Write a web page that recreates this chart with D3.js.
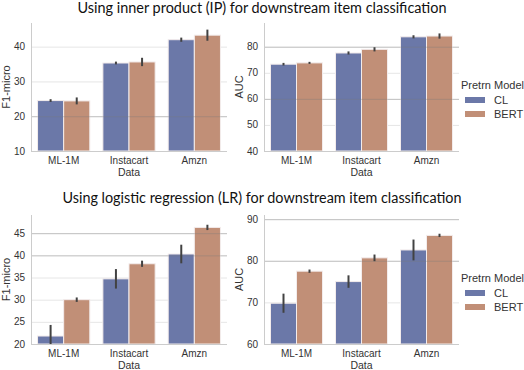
<!DOCTYPE html>
<html>
<head>
<meta charset="utf-8">
<script src="https://cdn.jsdelivr.net/npm/d3@7"></script>
<style>
  body { margin: 0; background: #fff; }
  text { font-family: "Liberation Sans", Arial, sans-serif; }
</style>
</head>
<body>
<div id="chart"></div>
<script>
// data
const datasets = ["ML-1M", "Instacart", "Amzn"];
const models = ["CL", "BERT"];

const ipF1 = { CL: [24.5, 35.3, 42.0], BERT: [24.4, 35.6, 43.3] };
const ipF1Err = { CL: [0.4, 0.4, 0.6], BERT: [1.0, 1.2, 1.6] };
const ipAuc = { CL: [73.3, 77.6, 83.8], BERT: [73.8, 79.0, 84.1] };
const ipAucErr = { CL: [0.5, 0.6, 0.6], BERT: [0.4, 0.8, 1.0] };

const lrF1 = { CL: [21.8, 34.7, 40.3], BERT: [30.0, 38.1, 46.3] };
const lrF1Err = { CL: [2.5, 2.2, 2.1], BERT: [0.5, 0.7, 0.6] };
const lrAuc = { CL: [69.8, 75.0, 82.6], BERT: [77.5, 80.7, 86.1] };
const lrAucErr = { CL: [2.3, 1.5, 2.5], BERT: [0.4, 0.8, 0.4] };

const ticksIpF1 = [10, 20, 30, 40];
const ticksIpAuc = [40, 50, 60, 70, 80];
const ticksLrF1 = [20, 25, 30, 35, 40, 45];
const ticksLrAuc = [60, 70, 80, 90];

const titles = [
  "Using inner product (IP) for downstream item classification",
  "Using logistic regression (LR) for downstream item classification"
];

const colors = { CL: "#6b78a8", BERT: "#c18f77" };

const W = 524, H = 370;
const svg = d3.select("#chart").append("svg").attr("width", W).attr("height", H);

function panel(opts) {
  const x = d3.scaleBand().domain(datasets).range([opts.x0, opts.x1]).padding(0);
  const bw = x.bandwidth();
  const xs = d3.scaleBand().domain(models).range([bw * 0.1, bw * 0.9]).padding(0);
  const y = d3.scaleLinear().domain(opts.domain).range([opts.y1, opts.y0]);
  const g = svg.append("g");

  // grid
  g.append("g").selectAll("line").data(opts.ticks).enter().append("line")
    .attr("x1", opts.x0).attr("x2", opts.x1)
    .attr("y1", d => y(d) + 0.5).attr("y2", d => y(d) + 0.5)
    .attr("stroke", "#e6e6e6").attr("stroke-width", 1);

  const rows = [];
  models.forEach(m => datasets.forEach((c, i) => rows.push({ m, c, v: opts.vals[m][i], e: opts.errs[m][i] })));

  g.append("g").selectAll("rect").data(rows).enter().append("rect")
    .attr("x", d => x(d.c) + xs(d.m))
    .attr("width", xs.bandwidth())
    .attr("y", d => y(d.v))
    .attr("height", d => opts.y1 - y(d.v))
    .attr("fill", d => colors[d.m])
    .attr("stroke", "#f3ecec").attr("stroke-width", 1);

  // gridlines that show through bars
  g.append("g").selectAll("line").data(opts.strong).enter().append("line")
    .attr("x1", opts.x0).attr("x2", opts.x1)
    .attr("y1", d => y(d) + 0.5).attr("y2", d => y(d) + 0.5)
    .attr("stroke", "#777").attr("stroke-opacity", 0.35).attr("stroke-width", 1);

  // error bars
  g.append("g").selectAll("line").data(rows).enter().append("line")
    .attr("x1", d => x(d.c) + xs(d.m) + xs.bandwidth() / 2)
    .attr("x2", d => x(d.c) + xs(d.m) + xs.bandwidth() / 2)
    .attr("y1", d => Math.min(opts.y1, y(d.v - d.e)))
    .attr("y2", d => y(d.v + d.e))
    .attr("stroke", "#424242").attr("stroke-width", 2);

  // spines
  g.append("line").attr("x1", opts.x0 + 0.5).attr("x2", opts.x0 + 0.5)
    .attr("y1", opts.y0).attr("y2", opts.y1).attr("stroke", "#cccccc");
  g.append("line").attr("x1", opts.x0).attr("x2", opts.x1)
    .attr("y1", opts.y1 + 0.5).attr("y2", opts.y1 + 0.5).attr("stroke", "#cccccc");

  // tick labels
  g.append("g").selectAll("text").data(opts.ticks).enter().append("text")
    .attr("x", opts.x0 - 6).attr("y", d => y(d) + 3.5)
    .attr("text-anchor", "end").attr("font-size", 10).attr("fill", "#333")
    .text(d => d);
  g.append("g").selectAll("text").data(datasets).enter().append("text")
    .attr("x", d => x(d) + bw / 2).attr("y", opts.y1 + 13)
    .attr("text-anchor", "middle").attr("font-size", 10).attr("fill", "#333")
    .text(d => d);
  g.append("text").attr("x", (opts.x0 + opts.x1) / 2).attr("y", opts.y1 + 25)
    .attr("text-anchor", "middle").attr("font-size", 10.5).attr("fill", "#333")
    .text("Data");
  g.append("text")
    .attr("transform", `translate(${opts.x0 - 21},${(opts.y0 + opts.y1) / 2}) rotate(-90)`)
    .attr("text-anchor", "middle").attr("font-size", 11).attr("fill", "#333")
    .text(opts.ylabel);

  if (opts.legendY) {
    const lg = g.append("g").attr("transform", `translate(461,${opts.legendY})`);
    lg.append("text").attr("x", 0).attr("y", 0).attr("font-size", 11).attr("fill", "#333").text("Pretrn Model");
    models.forEach((m, i) => {
      lg.append("rect").attr("x", 4).attr("y", 8 + i * 14).attr("width", 20).attr("height", 6).attr("fill", colors[m]);
      lg.append("text").attr("x", 33).attr("y", 15 + i * 14).attr("font-size", 11).attr("fill", "#333").text(m);
    });
  }
}

panel({ x0: 31, x1: 227, y0: 23, y1: 151, domain: [10, 46.8], ticks: ticksIpF1, strong: [20],
  vals: ipF1, errs: ipF1Err, ylabel: "F1-micro" });
panel({ x0: 264, x1: 459, y0: 23, y1: 151, domain: [40, 89.1], ticks: ticksIpAuc, strong: [60, 80],
  vals: ipAuc, errs: ipAucErr, ylabel: "AUC", legendY: 89 });
panel({ x0: 31, x1: 227, y0: 215, y1: 344, domain: [20, 49.1], ticks: ticksLrF1, strong: [40, 45],
  vals: lrF1, errs: lrF1Err, ylabel: "F1-micro" });
panel({ x0: 264, x1: 459, y0: 215, y1: 344, domain: [60, 91], ticks: ticksLrAuc, strong: [80, 90],
  vals: lrAuc, errs: lrAucErr, ylabel: "AUC", legendY: 282 });

// titles
svg.append("text").attr("x", 262).attr("y", 13).attr("text-anchor", "middle")
  .style("font-family", "Lato, 'Open Sans', sans-serif").attr("font-size", 14.5).attr("fill", "#111")
  .attr("textLength", 369).attr("lengthAdjust", "spacingAndGlyphs")
  .text(titles[0]);
svg.append("text").attr("x", 262).attr("y", 203).attr("text-anchor", "middle")
  .style("font-family", "Lato, 'Open Sans', sans-serif").attr("font-size", 14.5).attr("fill", "#111")
  .attr("textLength", 399).attr("lengthAdjust", "spacingAndGlyphs")
  .text(titles[1]);
</script>
</body>
</html>
